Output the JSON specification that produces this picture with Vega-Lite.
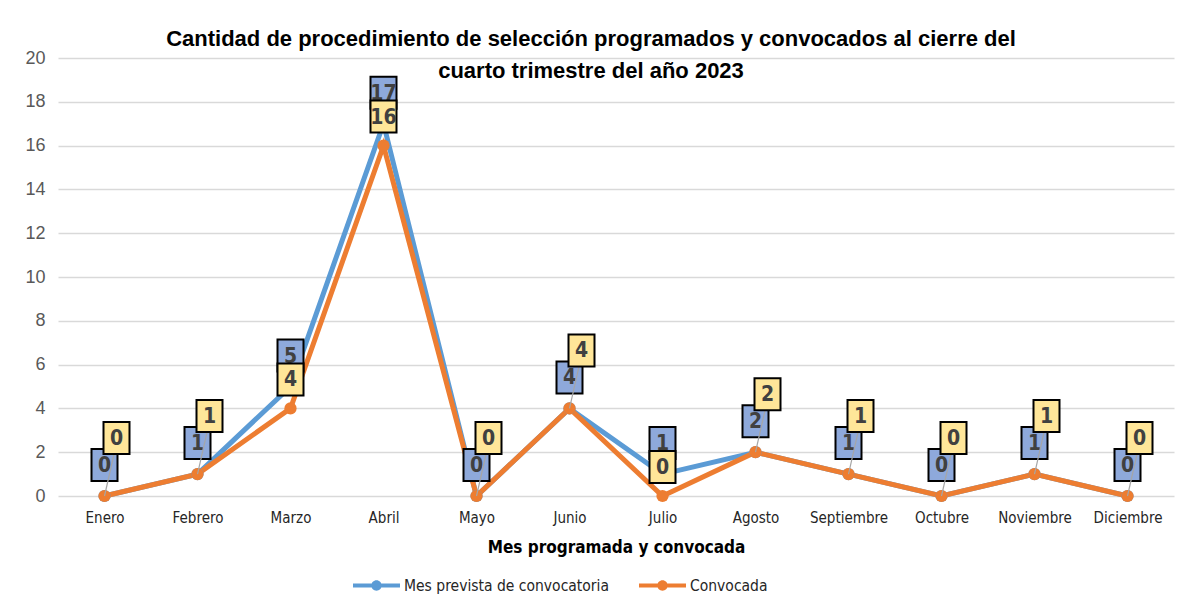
{
  "$schema": "https://vega.github.io/schema/vega-lite/v6.json",
  "width": 1116,
  "height": 438,
  "autosize": {"type": "none"},
  "padding": {"left": 58, "top": 58, "right": 6, "bottom": 107},
  "background": "white",
  "title": {
    "text": ["Cantidad de procedimiento de selección programados y convocados al cierre del", "cuarto trimestre del año 2023"],
    "anchor": "middle",
    "font": "Liberation Sans",
    "fontSize": 22,
    "fontWeight": "bold",
    "color": "#000000",
    "lineHeight": 32,
    "baseline": "top",
    "offset": 0,
    "dx": -25,
    "dy": 34
  },
  "config": {
    "view": {"stroke": null},
    "axis": {"labelFont": "Liberation Sans", "titleFont": "Liberation Sans"}
  },
  "data": {
    "values": [
      {"mes": "Enero", "serie": "Mes prevista de convocatoria", "valor": 0},
      {"mes": "Febrero", "serie": "Mes prevista de convocatoria", "valor": 1},
      {"mes": "Marzo", "serie": "Mes prevista de convocatoria", "valor": 5},
      {"mes": "Abril", "serie": "Mes prevista de convocatoria", "valor": 17},
      {"mes": "Mayo", "serie": "Mes prevista de convocatoria", "valor": 0},
      {"mes": "Junio", "serie": "Mes prevista de convocatoria", "valor": 4},
      {"mes": "Julio", "serie": "Mes prevista de convocatoria", "valor": 1},
      {"mes": "Agosto", "serie": "Mes prevista de convocatoria", "valor": 2},
      {"mes": "Septiembre", "serie": "Mes prevista de convocatoria", "valor": 1},
      {"mes": "Octubre", "serie": "Mes prevista de convocatoria", "valor": 0},
      {"mes": "Noviembre", "serie": "Mes prevista de convocatoria", "valor": 1},
      {"mes": "Diciembre", "serie": "Mes prevista de convocatoria", "valor": 0},
      {"mes": "Enero", "serie": "Convocada", "valor": 0},
      {"mes": "Febrero", "serie": "Convocada", "valor": 1},
      {"mes": "Marzo", "serie": "Convocada", "valor": 4},
      {"mes": "Abril", "serie": "Convocada", "valor": 16},
      {"mes": "Mayo", "serie": "Convocada", "valor": 0},
      {"mes": "Junio", "serie": "Convocada", "valor": 4},
      {"mes": "Julio", "serie": "Convocada", "valor": 0},
      {"mes": "Agosto", "serie": "Convocada", "valor": 2},
      {"mes": "Septiembre", "serie": "Convocada", "valor": 1},
      {"mes": "Octubre", "serie": "Convocada", "valor": 0},
      {"mes": "Noviembre", "serie": "Convocada", "valor": 1},
      {"mes": "Diciembre", "serie": "Convocada", "valor": 0}
    ]
  },
  "encoding": {
    "x": {
      "field": "mes",
      "type": "nominal",
      "sort": ["Enero", "Febrero", "Marzo", "Abril", "Mayo", "Junio", "Julio", "Agosto", "Septiembre", "Octubre", "Noviembre", "Diciembre"],
      "scale": {"type": "point", "padding": 0.5},
      "axis": {
        "title": "Mes programada y convocada",
        "titleFont": "DejaVu Sans Condensed, Liberation Sans",
        "titleFontSize": 17,
        "titleFontWeight": "bold",
        "titleColor": "#000000",
        "titlePadding": 14,
        "labelAngle": 0,
        "labelFont": "DejaVu Sans Condensed, Liberation Sans",
        "labelFontSize": 15,
        "labelColor": "#262626",
        "labelPadding": 14,
        "ticks": false,
        "domain": false,
        "grid": false
      }
    },
    "y": {
      "field": "valor",
      "type": "quantitative",
      "scale": {"domain": [0, 20], "nice": false},
      "axis": {
        "title": null,
        "values": [0, 2, 4, 6, 8, 10, 12, 14, 16, 18, 20],
        "labelFontSize": 18,
        "labelColor": "#595959",
        "labelPadding": 13,
        "ticks": false,
        "domain": false,
        "gridColor": "#d9d9d9",
        "gridWidth": 1.3
      }
    }
  },
  "layer": [
    {
      "mark": {"type": "line", "strokeWidth": 5},
      "encoding": {
        "color": {
          "field": "serie",
          "type": "nominal",
          "sort": ["Mes prevista de convocatoria", "Convocada"],
          "scale": {"domain": ["Mes prevista de convocatoria", "Convocada"], "range": ["#5B9BD5", "#ED7D31"]},
          "legend": {
            "title": null,
            "orient": "none",
            "direction": "horizontal",
            "legendX": 295,
            "legendY": 504,
            "symbolType": "M-1,-0.09L1,-0.09L1,0.09L-1,0.09Z M0.22,0A0.22,0.22,0,1,1,-0.22,0A0.22,0.22,0,1,1,0.22,0Z",
            "symbolSize": 2209,
            "symbolStrokeWidth": 0,
            "labelFont": "DejaVu Sans Condensed, Liberation Sans",
            "labelFontSize": 15.5,
            "labelColor": "#262626",
            "labelLimit": 400,
            "labelOffset": 4,
            "columnPadding": 30,
            "encode": {"symbols": {"update": {"fill": {"scale": "color", "field": "value"}, "strokeWidth": {"value": 0}}}}
          }
        },
        "order": {"field": "serie", "sort": "descending"}
      }
    },
    {
      "mark": {"type": "point", "filled": true, "size": 150, "opacity": 1},
      "encoding": {
        "color": {"field": "serie", "type": "nominal", "legend": null}
      }
    },
    {
      "transform": [{"filter": "datum.serie === 'Mes prevista de convocatoria'"}],
      "mark": {"type": "point", "shape": "M-0.8125,-1L0.8125,-1L0.8125,1L-0.8125,1Z", "size": 1024, "filled": true, "fill": "#8EA9DB", "stroke": "#000000", "strokeWidth": 2, "opacity": 1, "yOffset": -31}
    },
    {
      "transform": [{"filter": "datum.serie === 'Mes prevista de convocatoria'"}],
      "mark": {"type": "text", "font": "DejaVu Sans Condensed, Liberation Sans", "fontSize": 21, "fontWeight": "bold", "color": "#404040", "baseline": "middle", "align": "center", "yOffset": -30},
      "encoding": {"text": {"field": "valor", "type": "quantitative"}}
    },
    {
      "transform": [{"filter": "datum.serie === 'Convocada' && indexof(['Marzo','Abril','Julio'], datum.mes) < 0"}],
      "mark": {"type": "rule", "color": "#a6a6a6", "strokeWidth": 1.2, "x2Offset": 10, "y2Offset": -44},
      "encoding": {"x2": {"field": "mes"}, "y2": {"field": "valor"}}
    },
    {
      "transform": [{"filter": "datum.serie === 'Convocada' && indexof(['Marzo','Abril','Julio'], datum.mes) < 0"}],
      "mark": {"type": "point", "shape": "M-0.8125,-1L0.8125,-1L0.8125,1L-0.8125,1Z", "size": 1024, "filled": true, "fill": "#FFE699", "stroke": "#000000", "strokeWidth": 2, "opacity": 1, "xOffset": 12, "yOffset": -58}
    },
    {
      "transform": [{"filter": "datum.serie === 'Convocada' && indexof(['Marzo','Abril','Julio'], datum.mes) < 0"}],
      "mark": {"type": "text", "font": "DejaVu Sans Condensed, Liberation Sans", "fontSize": 21, "fontWeight": "bold", "color": "#404040", "baseline": "middle", "align": "center", "xOffset": 12, "yOffset": -57},
      "encoding": {"text": {"field": "valor", "type": "quantitative"}}
    },
    {
      "transform": [{"filter": "datum.serie === 'Convocada' && indexof(['Marzo','Abril','Julio'], datum.mes) >= 0"}],
      "mark": {"type": "point", "shape": "M-0.8125,-1L0.8125,-1L0.8125,1L-0.8125,1Z", "size": 1024, "filled": true, "fill": "#FFE699", "stroke": "#000000", "strokeWidth": 2, "opacity": 1, "yOffset": -29}
    },
    {
      "transform": [{"filter": "datum.serie === 'Convocada' && indexof(['Marzo','Abril','Julio'], datum.mes) >= 0"}],
      "mark": {"type": "text", "font": "DejaVu Sans Condensed, Liberation Sans", "fontSize": 21, "fontWeight": "bold", "color": "#404040", "baseline": "middle", "align": "center", "yOffset": -28},
      "encoding": {"text": {"field": "valor", "type": "quantitative"}}
    }
  ]
}
